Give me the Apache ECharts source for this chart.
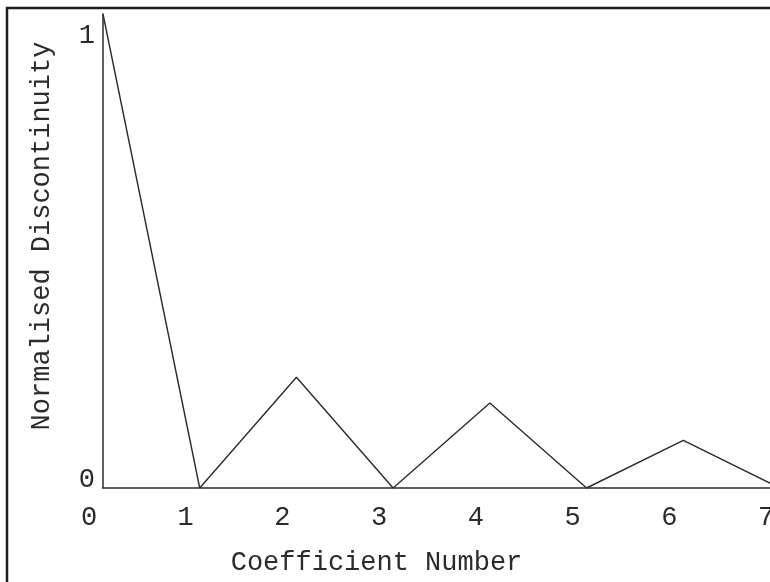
<!DOCTYPE html>
<html>
<head>
<meta charset="utf-8">
<script src="https://cdn.jsdelivr.net/npm/echarts@6/dist/echarts.min.js"></script>
<style>
    html, body { margin: 0; padding: 0; background: #fff; overflow: hidden; }
    /* the original scan is cropped on the right, so the canvas runs past the window */
    #chart_con { width: 780px; height: 582px; }
</style>
</head>
<body>
<div id="chart_con"></div>
<script>
    // coefficient index and normalised discontinuity
    var coefficients = [0, 1, 2, 3, 4, 5, 6, 7];
    var discontinuity = [1.066, 0, 0.249, 0, 0.191, 0, 0.107, 0];
    var xTicks = [0, 1, 2, 3, 4, 5, 6, 7];
    var yTicks = [0, 1];

    var font = '"Liberation Mono", "DejaVu Sans Mono", monospace';
    var ink = '#2b2b2b';

    var chart = echarts.init(document.getElementById('chart_con'));
    chart.setOption({
        backgroundColor: '#ffffff',
        animation: false,
        grid: {
            left: 103,
            right: 0,
            top: 14,
            bottom: 94
        },
        xAxis: {
            type: 'value',
            min: 0,
            max: 7,
            interval: 1,
            name: 'Coefficient Number',
            nameLocation: 'middle',
            nameGap: 61,
            nameTextStyle: {
                fontFamily: font,
                fontSize: 27,
                color: ink,
                padding: [0, 130, 0, 0]
            },
            axisLine: { lineStyle: { color: ink, width: 1.5 } },
            axisTick: { show: false },
            splitLine: { show: false },
            axisLabel: {
                customValues: xTicks,
                fontFamily: font,
                fontSize: 27,
                color: ink,
                margin: 16,
                padding: [0, 28, 0, 0]
            }
        },
        yAxis: {
            type: 'value',
            min: 0,
            max: 1.066,
            axisLine: { show: true, lineStyle: { color: ink, width: 1.5 } },
            axisTick: { show: false },
            splitLine: { show: false },
            axisLabel: {
                customValues: yTicks,
                fontFamily: font,
                fontSize: 27,
                color: ink,
                margin: 8,
                verticalAlign: 'bottom',
                lineHeight: 16
            }
        },
        series: [{
            type: 'line',
            data: coefficients.map(function (c, i) { return [c, discontinuity[i]]; }),
            symbol: 'none',
            lineStyle: { color: ink, width: 1.4 }
        }],
        graphic: [{
            type: 'rect',
            shape: { x: 7, y: 8, width: 800, height: 600 },
            style: { fill: 'none', stroke: '#1e1e1e', lineWidth: 2.5 },
            silent: true
        }, {
            type: 'text',
            x: 42,
            y: 236,
            rotation: Math.PI / 2,
            style: {
                text: 'Normalised Discontinuity',
                font: '27px ' + font,
                fill: ink,
                align: 'center',
                verticalAlign: 'middle'
            },
            silent: true
        }]
    });
</script>
</body>
</html>
